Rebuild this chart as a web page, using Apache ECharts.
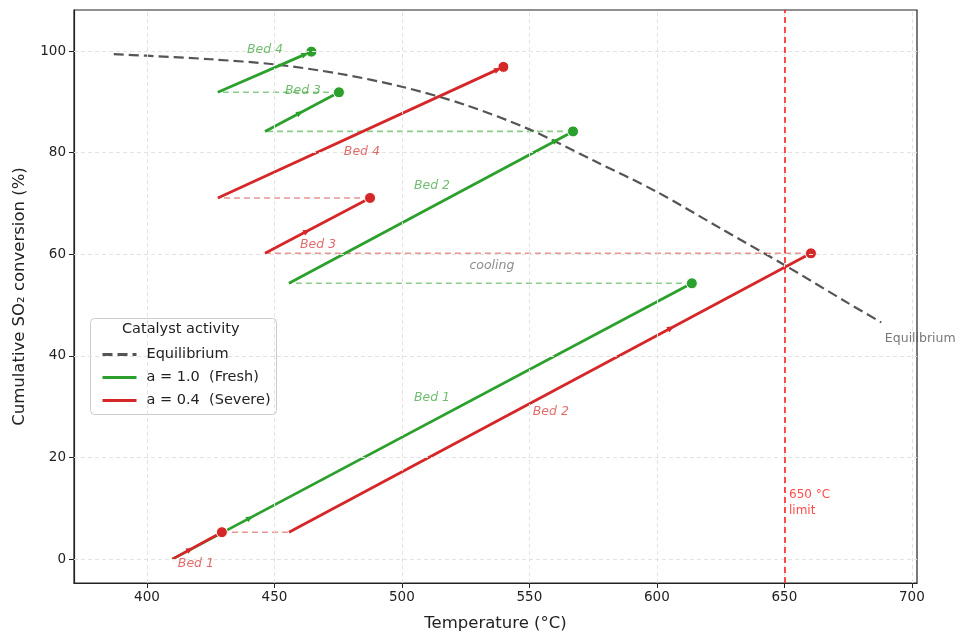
<!DOCTYPE html>
<html>
<head>
<meta charset="utf-8">
<script src="https://cdn.jsdelivr.net/npm/echarts@6/dist/echarts.min.js"></script>
<style>
  html, body { margin: 0; padding: 0; background: #fff; }
  #chart { width: 966px; height: 643px; }
</style>
</head>
<body>
<div id="chart"></div>
<script>
// equilibrium curve
const eqT = [387, 400, 425, 450, 475, 500, 525, 550, 575, 600, 625, 650, 675, 688];
const eqX = [99.4, 99.1, 98.4, 97.4, 95.6, 93.0, 89.4, 84.6, 78.5, 72.3, 65.1, 57.9, 50.4, 46.6];

// bed inlet / outlet points, a = 1.0 (fresh)
const freshInT = [410, 455.7, 446.3, 427.8];
const freshInX = [0, 54.3, 84.2, 91.9];
const freshOutT = [613.7, 567.1, 475.3, 464.5];
const freshOutX = [54.3, 84.2, 91.9, 99.9];
const freshArrowT = [440.4, 560.4, 460.0, 462.0];

// a = 0.4 (severe)
const severeInT = [410, 455.7, 446.3, 427.8];
const severeInX = [0, 5.3, 60.2, 71.1];
const severeOutT = [429.4, 660.4, 487.5, 539.8];
const severeOutX = [5.3, 60.2, 71.1, 96.9];
const severeArrowT = [416.9, 605.5, 462.7, 537.6];

const bedNames = ["Bed 1", "Bed 2", "Bed 3", "Bed 4"];
// label anchors [T, X]
const freshLabelPos = [[511.8, 31.7], [511.8, 73.6], [461.2, 92.3], [446.3, 100.2]];
const severeLabelPos = [[419.2, -1.0], [558.4, 29.1], [467.1, 61.8], [484.3, 80.1]];

const xTicks = [400, 450, 500, 550, 600, 650, 700];
const yTicks = [0, 20, 40, 60, 80, 100];
const tempLimit = 650;

const X_MIN = 371.4, X_MAX = 702, Y_MIN = -4.7, Y_MAX = 108.1;
const GRID = { left: 74, right: 49, top: 10, bottom: 60 };

const GREEN = "#2ca02c", RED = "#d62728";
const FRESH = "a = 1.0  (Fresh)", SEVERE = "a = 0.4  (Severe)";

const chart = echarts.init(document.getElementById("chart"));
const pxT = (966 - GRID.left - GRID.right) / (X_MAX - X_MIN);
const pxX = (643 - GRID.top - GRID.bottom) / (Y_MAX - Y_MIN);

function bedSeries(name, color, inT, inX, outT, outX) {
  return inT.map((t, i) => ({
    name: name,
    type: "line",
    symbol: "none",
    z: 3,
    lineStyle: { color: color, width: 2.8 },
    itemStyle: { color: color },
    data: [[t, inX[i]], [outT[i], outX[i]]]
  }));
}

function coolSeries(color, inT, outT, outX) {
  let out = [];
  for (let i = 0; i < outT.length - 1; i++) {
    out.push({
      name: "cooling",
      type: "line",
      symbol: "none",
      z: 2,
      lineStyle: { color: color, width: 1.6, type: [6, 4] },
      data: [[outT[i], outX[i]], [inT[i + 1], outX[i]]]
    });
  }
  return out;
}

function arrowData(arrT, inT, inX, outT, outX) {
  return arrT.map((t, i) => {
    const s = (outX[i] - inX[i]) / (outT[i] - inT[i]);
    const ang = Math.atan(s * pxX / pxT) * 180 / Math.PI;
    return { value: [t, inX[i] + s * (t - inT[i])], symbolRotate: ang - 90 };
  });
}

function dots(outT, outX) {
  return outT.map((t, i) => [t, outX[i]]);
}

function labelData(pos, color) {
  return pos.map((p, i) => ({
    value: p,
    label: { formatter: bedNames[i], color: color }
  }));
}

const gridLineStyle = { color: "#e3e3e3", width: 1, type: [4, 3] };

let series = [
  {
    type: "line",
    data: [],
    silent: true,
    z: 0,
    markLine: {
      silent: true,
      symbol: "none",
      label: { show: false },
      lineStyle: gridLineStyle,
      data: xTicks.map(v => ({ xAxis: v })).concat(yTicks.map(v => ({ yAxis: v })))
    }
  },
  {
    name: "Equilibrium",
    type: "line",
    symbol: "none",
    smooth: 0.3,
    z: 2,
    lineStyle: { color: "#555555", width: 2.2, type: [10, 5] },
    itemStyle: { color: "#555555" },
    data: eqT.map((t, i) => [t, eqX[i]]),
    markLine: {
      silent: true,
      symbol: "none",
      label: { show: false },
      lineStyle: { color: "rgba(255,0,0,0.7)", width: 2, type: [6, 4] },
      data: [{ xAxis: tempLimit }]
    }
  }
];
series = series.concat(coolSeries("rgba(44,160,44,0.55)", freshInT, freshOutT, freshOutX));
series = series.concat(bedSeries(FRESH, GREEN, freshInT, freshInX, freshOutT, freshOutX));
series = series.concat(coolSeries("rgba(214,39,40,0.5)", severeInT, severeOutT, severeOutX));
series = series.concat(bedSeries(SEVERE, RED, severeInT, severeInX, severeOutT, severeOutX));
series.push(
  {
    name: "fresh-dots",
    type: "scatter",
    symbolSize: 11,
    z: 4,
    itemStyle: { color: GREEN, borderColor: "#fff", borderWidth: 1, opacity: 1 },
    data: dots(freshOutT, freshOutX)
  },
  {
    name: "severe-dots",
    type: "scatter",
    symbolSize: 11,
    z: 4,
    itemStyle: { color: RED, borderColor: "#fff", borderWidth: 1, opacity: 1 },
    data: dots(severeOutT, severeOutX)
  },
  {
    name: "fresh-arrows",
    type: "scatter",
    symbol: "triangle",
    symbolSize: [6, 7],
    z: 4,
    itemStyle: { color: GREEN, opacity: 1 },
    data: arrowData(freshArrowT, freshInT, freshInX, freshOutT, freshOutX)
  },
  {
    name: "severe-arrows",
    type: "scatter",
    symbol: "triangle",
    symbolSize: [6, 7],
    z: 4,
    itemStyle: { color: RED, opacity: 1 },
    data: arrowData(severeArrowT, severeInT, severeInX, severeOutT, severeOutX)
  },
  {
    name: "labels",
    type: "scatter",
    symbolSize: 0,
    z: 5,
    silent: true,
    label: {
      show: true,
      position: "inside",
      fontFamily: "DejaVu Sans",
      fontStyle: "italic",
      fontSize: 12.5
    },
    data: labelData(freshLabelPos, "rgba(44,160,44,0.85)")
      .concat(labelData(severeLabelPos, "rgba(214,39,40,0.85)"))
      .concat([
        { value: [535.3, 57.7], label: { formatter: "cooling", color: "#707070" } },
        {
          value: [689.4, 43.3],
          label: { formatter: "Equilibrium", color: "#555", fontStyle: "normal", fontSize: 12.5, position: "right", distance: 0 }
        },
        {
          value: [651.8, 11.0],
          label: { formatter: "650 °C\nlimit", color: "#ff1a1a", fontStyle: "normal", fontSize: 12, lineHeight: 16, position: "right", distance: 0 }
        }
      ])
  }
);

const option = {
  animation: false,
  textStyle: { fontFamily: "DejaVu Sans" },
  grid: {
    left: GRID.left, right: GRID.right, top: GRID.top, bottom: GRID.bottom,
    show: true, borderColor: "#222", borderWidth: 1.2, containLabel: false
  },
  legend: {
    data: ["Equilibrium", FRESH, SEVERE],
    orient: "vertical",
    left: 96,
    top: 342,
    z: 12,
    itemWidth: 34,
    itemHeight: 14,
    itemGap: 8,
    itemStyle: { opacity: 0 },
    lineStyle: { opacity: 1, width: 3 },
    textStyle: { fontSize: 14.5, color: "#222", padding: [0, 0, 0, 5] }
  },
  graphic: [
    {
      type: "rect",
      left: 90, top: 318, z: 1,
      shape: { width: 186, height: 96, r: 4 },
      style: { fill: "rgba(255,255,255,0.85)", stroke: "#cccccc", lineWidth: 1 }
    },
    {
      type: "text",
      left: 122, top: 322, z: 11,
      style: { text: "Catalyst activity", fontSize: 14.5, fill: "#222", fontFamily: "DejaVu Sans" }
    }
  ],
  xAxis: {
    type: "value",
    min: X_MIN, max: X_MAX,
    name: "Temperature (°C)",
    nameLocation: "middle",
    nameGap: 32,
    nameTextStyle: { fontSize: 16.5, color: "#222" },
    axisLine: { show: true, onZero: false, lineStyle: { color: "#222", width: 1.2 } },
    axisTick: { show: true, length: 5, customValues: xTicks, lineStyle: { color: "#222" } },
    axisLabel: { customValues: xTicks, fontSize: 13.5, color: "#222", margin: 7 },
    splitLine: { show: false }
  },
  yAxis: {
    type: "value",
    min: Y_MIN, max: Y_MAX,
    name: "Cumulative SO₂ conversion (%)",
    nameLocation: "middle",
    nameGap: 46,
    nameTextStyle: { fontSize: 16.5, color: "#222" },
    axisLine: { show: true, onZero: false, lineStyle: { color: "#222", width: 1.2 } },
    axisTick: { show: true, length: 5, customValues: yTicks, lineStyle: { color: "#222" } },
    axisLabel: { customValues: yTicks, fontSize: 13.5, color: "#222", margin: 8 },
    splitLine: { show: false }
  },
  series: series
};

chart.setOption(option);
</script>
</body>
</html>
